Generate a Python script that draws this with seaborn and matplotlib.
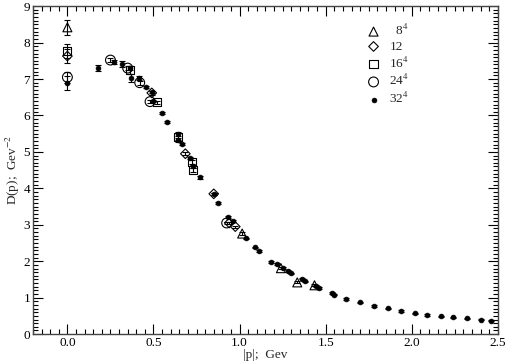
import numpy as np
import pandas as pd
import matplotlib
matplotlib.use("Agg")
import matplotlib.pyplot as plt
import seaborn as sns
from matplotlib.ticker import MultipleLocator

# Data
p8 = [0.0, 1.015, 1.24, 1.335, 1.435]
d8 = [8.42, 2.76, 1.81, 1.42, 1.34]
e8 = [0.2, 0.03, 0.03, 0.03, 0.03]

p12 = [0.0, 0.49, 0.685, 0.85, 0.94, 0.975]
d12 = [7.63, 6.62, 4.95, 3.85, 3.05, 2.95]
e12 = [0.2, 0.05, 0.04, 0.03, 0.03, 0.03]

p16 = [0.0, 0.365, 0.52, 0.64, 0.725, 0.73]
d16 = [7.77, 7.25, 6.36, 5.42, 4.72, 4.5]
e16 = [0.2, 0.1, 0.05, 0.1, 0.05, 0.05]

p24 = [0.0, 0.25, 0.35, 0.42, 0.48, 0.925]
d24 = [7.05, 7.52, 7.3, 6.9, 6.38, 3.05]
e24 = [0.15, 0.05, 0.05, 0.05, 0.05, 0.03]

p32 = [0.0, 0.18, 0.27, 0.32, 0.365, 0.37, 0.415, 0.455, 0.49, 0.5,
       0.55, 0.58, 0.64, 0.645, 0.665, 0.71, 0.73, 0.77, 0.85, 0.875,
       0.93, 0.96, 1.04, 1.09, 1.115, 1.185, 1.215, 1.25, 1.28, 1.30,
       1.365, 1.38, 1.445, 1.46, 1.535, 1.55, 1.62, 1.70, 1.78, 1.86,
       1.94, 2.02, 2.09, 2.17, 2.24, 2.32, 2.40, 2.46]
d32 = [6.89, 7.3, 7.46, 7.42, 7.3, 7.03, 7.02, 6.78, 6.64, 6.4,
       6.06, 5.82, 5.5, 5.32, 5.21, 4.83, 4.6, 4.3, 3.85, 3.6,
       3.22, 3.1, 2.63, 2.38, 2.28, 1.98, 1.92, 1.82, 1.73, 1.67,
       1.52, 1.45, 1.32, 1.26, 1.13, 1.08, 0.96, 0.87, 0.77, 0.71,
       0.63, 0.57, 0.52, 0.49, 0.46, 0.43, 0.40, 0.37]
e32 = [0.2, 0.08, 0.05, 0.08, 0.05, 0.1, 0.05, 0.03, 0.03, 0.03,
       0.03, 0.03, 0.05, 0.05, 0.03, 0.03, 0.03, 0.03, 0.03, 0.03,
       0.03, 0.03, 0.02, 0.02, 0.02, 0.02, 0.02, 0.02, 0.02, 0.02,
       0.02, 0.02, 0.02, 0.02, 0.02, 0.02, 0.02, 0.02, 0.02, 0.02,
       0.02, 0.02, 0.02, 0.02, 0.02, 0.02, 0.02, 0.02]

series = [
    (p8, d8, e8, "^", r"  8$^4$", 42, True),
    (p12, d12, e12, "D", "12", 24, True),
    (p16, d16, e16, "s", r"16$^4$", 34, True),
    (p24, d24, e24, "o", r"24$^4$", 50, True),
    (p32, d32, e32, "o", r"32$^4$", 12, False),
]

sns.set_style("ticks")
plt.rcParams["font.family"] = ["Liberation Serif", "DejaVu Serif"]
plt.rcParams["mathtext.fontset"] = "stix"

fig = plt.figure(figsize=(5.07, 3.62), dpi=100)
ax = fig.add_axes([0.065, 0.077, 0.917, 0.906])

for p, d, e, m, lab, s, hollow in series:
    ax.errorbar(p, d, yerr=e, fmt="none", ecolor="black", elinewidth=0.8,
                capsize=2, capthick=0.8, zorder=2)
    df = pd.DataFrame({"p": p, "D": d})
    if hollow:
        sns.scatterplot(data=df, x="p", y="D", marker=m, s=s, facecolor="none",
                        edgecolor="black", linewidth=0.8, label=lab, ax=ax, zorder=3)
    else:
        sns.scatterplot(data=df, x="p", y="D", marker=m, s=s, color="black",
                        edgecolor="black", linewidth=0.5, label=lab, ax=ax, zorder=4)

ax.set_xlim(-0.2, 2.5)
ax.set_ylim(0, 9)
ax.xaxis.set_major_locator(MultipleLocator(0.5))
ax.xaxis.set_minor_locator(MultipleLocator(0.05))
ax.yaxis.set_major_locator(MultipleLocator(1))
ax.yaxis.set_minor_locator(MultipleLocator(0.1))
ax.set_xticklabels([f"{v:.1f}" for v in ax.get_xticks()])
ax.tick_params(which="both", direction="in", top=True, right=True,
               labelsize=9.5, colors="black", width=0.8)
ax.tick_params(which="major", length=7, pad=2)
ax.tick_params(which="minor", length=3.5)
for sp in ax.spines.values():
    sp.set_linewidth(1.0)
    sp.set_color("#444444")

ax.set_xlabel(r"|p|;  Gev", fontsize=9.5, labelpad=0)
ax.set_ylabel(r"D(p);  Gev$^{-2}$", fontsize=9.5, labelpad=1)

leg = ax.legend(loc="upper left", bbox_to_anchor=(0.69, 0.985), frameon=False,
                fontsize=9.5, handletextpad=0.6, labelspacing=0.2,
                handlelength=1.2)

fig.savefig("out.png", dpi=100)
